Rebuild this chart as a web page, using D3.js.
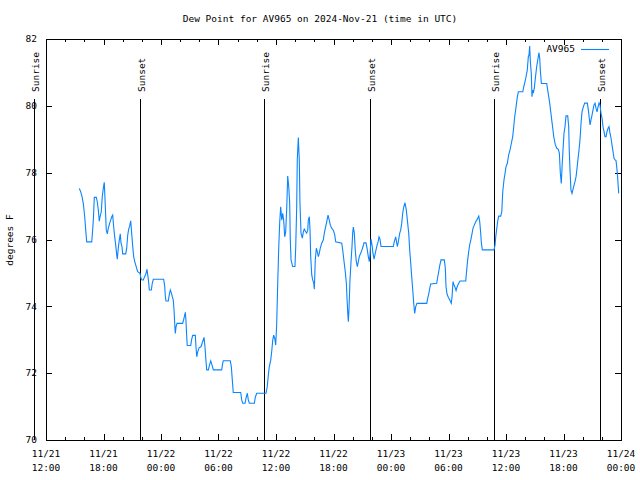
<!DOCTYPE html>
<html><head><meta charset="utf-8">
<script src="https://cdn.jsdelivr.net/npm/d3@7"></script>
<style>
body{margin:0;background:#fff}
text{font-family:"DejaVu Sans Mono","Liberation Mono",monospace;font-size:9.5px;fill:#000}
</style>
</head><body><svg id="c" width="640" height="480"></svg>
<script>
const title = "Dew Point for AV965 on 2024-Nov-21 (time in UTC)";
const seriesName = "AV965";
const yLabel = "degrees F";
const startTime = "2024-11-21T12:00:00Z";
const endTime = "2024-11-24T00:00:00Z";
const yTicks = [70, 72, 74, 76, 78, 80, 82];
const sunTimes = ["2024-11-21T10:46:00Z","2024-11-21T21:49:00Z","2024-11-22T10:46:00Z","2024-11-22T21:50:00Z","2024-11-23T10:47:00Z","2024-11-23T21:50:00Z"];
const sunLabels = ["Sunrise","Sunset","Sunrise","Sunset","Sunrise","Sunset"];
const hoursSinceStart = [
3.47,3.62,3.76,3.89,4.04,4.17,4.25,4.77,4.83,4.94,
5.04,5.25,5.35,5.46,5.56,5.64,5.77,5.87,5.98,6.08,
6.13,6.29,6.40,6.50,6.65,6.75,6.86,6.96,7.06,7.17,
7.27,7.38,7.44,7.54,7.65,7.75,7.83,7.93,8.00,8.32,
8.42,8.53,8.63,8.73,8.84,8.94,9.05,9.15,9.26,9.36,
9.46,9.57,9.81,9.91,10.02,10.15,10.30,10.44,10.54,10.64,
10.72,10.78,10.99,11.09,11.20,12.28,12.39,12.45,12.52,12.76,
12.87,12.97,13.07,13.18,13.28,13.36,13.43,13.49,13.57,13.67,
14.26,14.37,14.47,14.54,14.61,14.68,14.74,15.10,15.20,15.31,
15.58,15.65,15.73,15.83,15.97,16.17,16.31,16.49,16.59,16.70,
16.77,16.94,17.04,17.19,17.32,17.46,18.33,18.44,18.50,19.23,
19.34,19.44,19.54,20.32,20.42,20.53,20.77,20.87,21.01,21.11,
21.22,21.74,21.84,21.99,22.96,23.09,23.20,23.30,23.45,23.55,
23.66,23.76,23.87,23.97,24.07,24.18,24.28,24.39,24.49,24.60,
24.70,24.80,24.91,25.01,25.12,25.22,25.33,25.43,25.49,25.57,
25.74,25.98,26.06,26.16,26.22,26.33,26.43,26.50,26.61,26.75,
26.85,26.95,27.10,27.20,27.31,27.37,27.48,27.55,27.62,27.73,
27.83,27.94,28.00,28.10,28.21,28.31,28.42,28.52,28.62,28.77,
28.94,29.04,29.15,29.29,29.43,29.56,29.67,29.81,29.98,30.13,
30.23,30.86,30.96,31.10,31.23,31.34,31.41,31.49,31.55,31.62,
31.72,31.83,31.93,32.00,32.07,32.17,32.28,32.38,32.49,32.59,
32.69,32.84,32.97,33.08,33.18,33.39,33.50,33.63,33.74,33.81,
33.91,34.02,34.12,34.23,34.36,34.51,34.65,34.75,34.85,34.96,
36.24,36.34,36.49,36.66,36.76,36.91,37.01,37.12,37.22,37.33,
37.46,37.60,37.74,37.85,37.95,38.06,38.16,38.27,38.37,38.47,
38.58,38.71,39.73,39.83,39.94,40.04,40.14,40.77,40.87,40.98,
41.08,41.22,41.56,41.67,41.74,41.85,41.98,42.13,42.29,42.37,
42.47,42.58,42.68,42.79,42.89,43.02,43.20,43.80,43.90,44.00,
44.11,44.21,44.35,44.45,44.56,44.69,44.84,45.01,45.16,45.26,
45.36,45.43,45.53,46.75,46.86,46.93,47.03,47.14,47.24,47.45,
47.56,47.66,47.79,47.90,48.00,48.14,48.28,48.42,48.56,48.70,
48.81,48.91,49.05,49.18,49.29,49.75,49.85,49.98,50.09,50.22,
50.33,50.40,50.47,50.54,50.64,50.71,50.78,50.85,50.95,51.06,
51.20,51.34,51.44,51.52,51.58,51.69,52.25,52.35,52.46,52.56,
52.67,52.77,52.88,52.98,53.15,53.30,53.46,53.57,53.67,53.77,
53.85,53.95,54.05,54.16,54.26,54.44,54.54,54.60,54.68,54.78,
54.89,54.99,55.10,55.20,55.31,55.41,55.52,55.62,55.72,55.83,
55.93,56.07,56.21,56.49,56.59,56.69,56.77,56.87,56.98,57.08,
57.18,57.29,57.39,57.50,57.60,57.71,57.81,57.91,58.02,58.12,
58.23,58.33,58.44,58.54,58.65,58.75,58.85,58.96,59.06,59.17,
59.27,59.38,59.48,59.55,59.62,59.69,59.76];
const dewPointF = [
77.53,77.43,77.28,77.08,76.68,76.19,75.93,75.93,76.14,76.58,
77.26,77.26,77.13,76.88,76.55,76.68,76.83,77.28,77.53,77.71,
77.39,76.28,76.17,76.34,76.49,76.58,76.68,76.73,76.38,76.08,
75.84,75.54,75.41,75.74,75.99,76.17,75.89,75.79,75.57,75.57,
75.74,76.14,76.31,76.40,76.56,76.19,75.79,75.49,75.34,75.24,
75.14,75.04,74.99,74.84,74.79,74.79,74.89,74.99,75.11,74.89,
74.69,74.49,74.49,74.69,74.81,74.81,74.59,74.31,74.16,74.16,
74.36,74.49,74.41,74.29,74.19,73.89,73.49,73.19,73.39,73.49,
73.49,73.61,73.74,73.82,73.54,73.11,72.83,72.83,73.01,73.13,
73.13,72.79,72.49,72.64,72.76,72.79,72.91,73.07,72.79,72.34,
72.10,72.10,72.22,72.37,72.25,72.10,72.10,72.30,72.37,72.37,
72.19,71.80,71.42,71.42,71.20,71.10,71.10,71.25,71.40,71.20,
71.10,71.10,71.28,71.40,71.40,71.60,71.95,72.19,72.39,72.64,
72.99,73.14,73.04,72.84,73.44,74.69,75.71,76.53,76.98,76.58,
76.78,76.58,76.08,76.23,76.93,77.90,77.58,77.08,75.99,75.39,
75.19,75.19,75.79,76.98,78.38,79.05,78.38,77.08,76.19,76.04,
76.23,76.31,76.23,76.19,76.28,76.58,76.68,76.28,75.49,74.94,
74.79,74.69,74.51,75.39,75.74,75.64,75.49,75.59,75.74,75.89,
75.99,76.19,76.34,76.53,76.73,76.58,76.43,76.34,76.28,76.14,
75.93,75.89,75.69,75.34,75.04,74.69,74.24,73.79,73.54,73.94,
74.79,75.34,75.79,76.19,76.37,76.19,75.64,75.34,75.19,75.34,
75.49,75.59,75.69,75.79,75.90,75.90,75.74,75.49,75.34,75.54,
76.01,75.84,75.59,75.41,75.59,75.79,75.93,76.08,76.01,75.79,
75.79,75.93,76.08,75.79,75.93,76.19,76.28,76.49,76.78,76.98,
77.10,76.88,76.49,76.19,75.69,75.29,74.89,74.49,74.09,73.79,
73.99,74.09,74.09,74.24,74.37,74.54,74.67,74.69,74.87,75.04,
75.21,75.39,75.39,75.14,74.59,74.36,74.27,74.19,74.09,74.29,
74.74,74.64,74.57,74.47,74.57,74.67,74.76,74.76,75.09,75.39,
75.64,75.84,76.01,76.17,76.34,76.43,76.53,76.61,76.70,76.53,
76.19,75.89,75.69,75.69,75.84,76.08,76.31,76.56,76.70,76.70,
76.83,77.43,77.78,77.98,78.18,78.28,78.53,78.68,78.88,79.08,
79.38,79.68,79.97,80.27,80.42,80.42,80.57,80.72,80.87,81.07,
81.47,81.52,81.79,81.32,80.97,80.27,80.47,80.38,80.52,80.82,
81.17,81.42,81.59,81.42,81.07,80.67,80.67,80.47,80.27,80.08,
79.82,79.58,79.33,79.08,78.83,78.73,78.70,78.58,77.98,77.68,
78.18,78.68,79.18,79.38,79.70,79.70,79.38,78.68,78.08,77.48,
77.38,77.50,77.63,77.73,77.88,78.13,78.43,78.68,78.98,79.48,
79.82,79.97,80.08,80.08,79.88,79.63,79.43,79.58,79.73,79.88,
80.03,80.08,79.93,79.82,79.96,80.09,80.03,79.78,79.63,79.38,
79.23,79.08,79.08,79.23,79.33,79.38,79.18,79.03,78.83,78.63,
78.43,78.38,78.36,78.18,77.98,77.68,77.38];

const L = 46, R = 621, T = 39, B = 440;
const t0 = new Date(startTime), t1 = new Date(endTime);
const svg = d3.select("#c");
const x = d3.scaleUtc().domain([t0, t1]).range([L, R]);
const y = d3.scaleLinear().domain([70, 82]).range([B, T]);
const toDate = h => new Date(t0.getTime() + h * 3600e3);
const data = hoursSinceStart.map((h, i) => ({t: toDate(h), v: dewPointF[i]}));

// title
svg.append("text").attr("x", 320).attr("y", 22).attr("text-anchor", "middle").text(title);

// y label
svg.append("text").attr("transform", "translate(13,240) rotate(-90)")
  .attr("text-anchor", "middle").text(yLabel);

// border
svg.append("rect").attr("x", L).attr("y", T).attr("width", R - L).attr("height", B - T)
  .attr("fill", "none").attr("stroke", "#000").attr("shape-rendering", "crispEdges");

// y ticks
const gy = svg.append("g").attr("shape-rendering", "crispEdges");
yTicks.forEach(v => {
  const yy = Math.round(y(v)) + 0.5;
  gy.append("line").attr("x1", L).attr("x2", L + 6).attr("y1", yy).attr("y2", yy).attr("stroke", "#000");
  gy.append("line").attr("x1", R - 6).attr("x2", R).attr("y1", yy).attr("y2", yy).attr("stroke", "#000");
  svg.append("text").attr("x", 37).attr("y", y(v)).attr("dy", "0.35em").attr("text-anchor", "end").text(v);
});

// x ticks
const majors = d3.utcHour.every(6).range(t0, new Date(t1.getTime() + 1));
const minors = d3.utcHour.every(2).range(t0, new Date(t1.getTime() + 1));
const gx = svg.append("g").attr("shape-rendering", "crispEdges");
minors.forEach(d => {
  const xx = Math.round(x(d)) + 0.5;
  gx.append("line").attr("x1", xx).attr("x2", xx).attr("y1", B).attr("y2", B - 3).attr("stroke", "#000");
  gx.append("line").attr("x1", xx).attr("x2", xx).attr("y1", T).attr("y2", T + 3).attr("stroke", "#000");
});
const fDay = d3.utcFormat("%m/%d"), fHour = d3.utcFormat("%H:%M");
majors.forEach(d => {
  const xx = Math.round(x(d)) + 0.5;
  gx.append("line").attr("x1", xx).attr("x2", xx).attr("y1", B).attr("y2", B - 6).attr("stroke", "#000");
  gx.append("line").attr("x1", xx).attr("x2", xx).attr("y1", T).attr("y2", T + 6).attr("stroke", "#000");
  svg.append("text").attr("x", x(d)).attr("y", 457).attr("text-anchor", "middle").text(fDay(d));
  svg.append("text").attr("x", x(d)).attr("y", 471).attr("text-anchor", "middle").text(fHour(d));
});

// sunrise / sunset markers
sunTimes.forEach((s, i) => {
  const d = new Date(s);
  const xx = Math.round(x(d)) + 0.5;
  svg.append("line").attr("x1", xx).attr("x2", xx).attr("y1", 99).attr("y2", B)
    .attr("stroke", "#000").attr("shape-rendering", "crispEdges");
  svg.append("text").attr("transform", `translate(${xx + 1},92) rotate(-90)`)
    .attr("dy", "0.35em").attr("text-anchor", "start").text(sunLabels[i]);
});

// series line
const line = d3.line().x(d => x(d.t)).y(d => y(d.v));
svg.append("path").datum(data).attr("d", line).attr("fill", "none")
  .attr("stroke", "#0a84ff").attr("stroke-width", 1.1);

// legend
svg.append("text").attr("x", 575).attr("y", 49).attr("dy", "0.35em").attr("text-anchor", "end").text(seriesName);
svg.append("line").attr("x1", 581).attr("x2", 609).attr("y1", 49.5).attr("y2", 49.5)
  .attr("stroke", "#0a84ff").attr("stroke-width", 1.1);
</script>
</body></html>
